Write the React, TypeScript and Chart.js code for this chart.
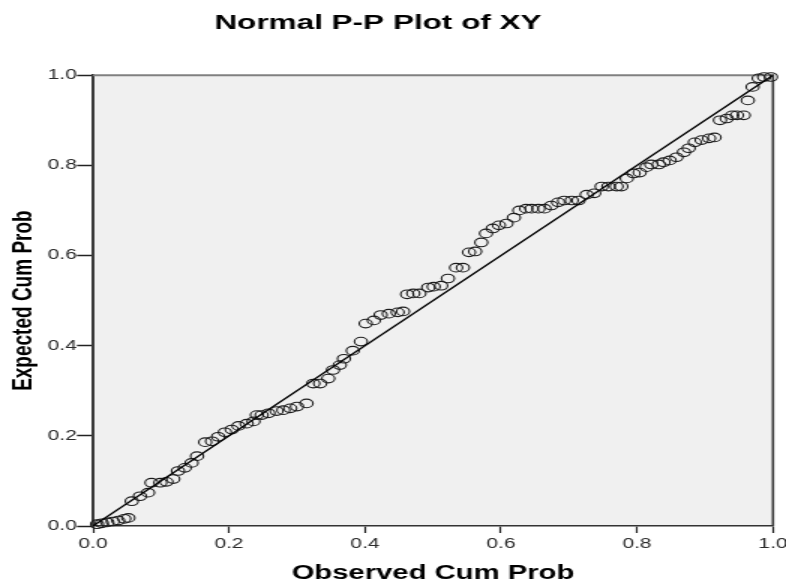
import React, { useEffect, useRef } from "react";
import { Chart, registerables } from "chart.js";

Chart.register(...registerables);

// Observed cumulative probability (x) and expected cumulative probability (y)
const observedCumProb = [
  0.006, 0.013, 0.021, 0.029, 0.037, 0.046, 0.052, 0.057, 0.069, 0.081,
  0.086, 0.099, 0.108, 0.118, 0.125, 0.135, 0.145, 0.153, 0.165, 0.175,
  0.184, 0.194, 0.204, 0.214, 0.226, 0.236, 0.241, 0.248, 0.258, 0.27,
  0.28, 0.29, 0.3, 0.314, 0.324, 0.334, 0.346, 0.353, 0.363, 0.369,
  0.382, 0.394, 0.401, 0.413, 0.423, 0.435, 0.448, 0.456, 0.462, 0.471,
  0.48, 0.493, 0.501, 0.512, 0.522, 0.534, 0.544, 0.553, 0.562, 0.571,
  0.578, 0.588, 0.597, 0.608, 0.619, 0.627, 0.637, 0.645, 0.655, 0.664,
  0.674, 0.684, 0.693, 0.704, 0.714, 0.726, 0.737, 0.748, 0.758, 0.77,
  0.777, 0.785, 0.795, 0.804, 0.814, 0.821, 0.832, 0.839, 0.848, 0.858,
  0.869, 0.876, 0.885, 0.895, 0.906, 0.914, 0.922, 0.932, 0.94, 0.947,
  0.957, 0.963, 0.97, 0.979, 0.987, 0.997,
];
const expectedCumProb = [
  0.004, 0.006, 0.008, 0.01, 0.012, 0.016, 0.018, 0.055, 0.066, 0.074,
  0.096, 0.096, 0.098, 0.104, 0.122, 0.129, 0.14, 0.155, 0.186, 0.188,
  0.198, 0.208, 0.214, 0.222, 0.227, 0.232, 0.246, 0.246, 0.25, 0.255,
  0.257, 0.261, 0.265, 0.272, 0.316, 0.316, 0.327, 0.346, 0.357, 0.371,
  0.389, 0.409, 0.449, 0.456, 0.468, 0.471, 0.474, 0.476, 0.514, 0.516,
  0.516, 0.529, 0.531, 0.533, 0.549, 0.573, 0.573, 0.607, 0.609, 0.629,
  0.649, 0.66, 0.667, 0.671, 0.684, 0.7, 0.704, 0.704, 0.704, 0.704,
  0.711, 0.718, 0.722, 0.722, 0.722, 0.735, 0.738, 0.753, 0.753, 0.753,
  0.753, 0.771, 0.782, 0.784, 0.796, 0.802, 0.802, 0.807, 0.811, 0.818,
  0.829, 0.838, 0.851, 0.856, 0.86, 0.862, 0.9, 0.904, 0.911, 0.911,
  0.911, 0.944, 0.974, 0.993, 0.996, 0.996,
];
// Reference (diagonal) line end points
const refLineX = [0, 1];
const refLineY = [0, 1];
// Axis ticks
const tickValues = [0, 0.2, 0.4, 0.6, 0.8, 1.0];
const tickLabels = ["0.0", "0.2", "0.4", "0.6", "0.8", "1.0"];

const TITLE = "Normal P-P Plot of XY";
const X_TITLE = "Observed Cum Prob";
const Y_TITLE = "Expected Cum Prob";

// The reference image is horizontally stretched; render narrower and stretch via CSS
const CSS_W = 786;
const CSS_H = 583;
const STRETCH = 1.5;
const W = Math.round(CSS_W / STRETCH); // 524
const H = CSS_H;

const FONT = "'Liberation Sans', Arial, Helvetica, sans-serif";

const framePlugin = {
  id: "ppFrame",
  beforeDraw(chart: any) {
    const { ctx, chartArea } = chart;
    const { left, top, right, bottom } = chartArea;
    ctx.save();
    ctx.fillStyle = "#f0f0f0";
    ctx.fillRect(left, top, right - left, bottom - top);
    ctx.restore();
  },
  beforeDatasetsDraw(chart: any) {
    const { ctx, chartArea } = chart;
    const { left, top, right, bottom } = chartArea;
    ctx.save();
    // top border (lighter gray)
    ctx.strokeStyle = "#808080";
    ctx.lineWidth = 2;
    ctx.beginPath();
    ctx.moveTo(left, top);
    ctx.lineTo(right, top);
    ctx.stroke();
    // right border (dark)
    ctx.strokeStyle = "#3a3a3a";
    ctx.lineWidth = 1.6;
    ctx.beginPath();
    ctx.moveTo(right, top - 1);
    ctx.lineTo(right, bottom);
    ctx.stroke();
    ctx.restore();
  },
};

export default function App() {
  const canvasRef = useRef<HTMLCanvasElement | null>(null);

  useEffect(() => {
    document.body.style.margin = "0";
    const canvas = canvasRef.current;
    if (!canvas) return;

    const points = observedCumProb.map((x, i) => ({ x, y: expectedCumProb[i] }));
    const line = refLineX.map((x, i) => ({ x, y: refLineY[i] }));

    const padLeft = -11.3;
    const padRight = 8.67;
    const chartLeft = 62;

    const chart = new Chart(canvas, {
      type: "scatter",
      data: {
        datasets: [
          {
            label: "Reference",
            data: line,
            showLine: true,
            borderColor: "#000000",
            borderWidth: 1.3,
            pointRadius: 0,
            pointHoverRadius: 0,
            fill: false,
          } as any,
          {
            label: "Observed",
            data: points,
            pointStyle: "circle",
            pointRadius: 4.3,
            pointHoverRadius: 4.3,
            pointBorderWidth: 1.1,
            borderColor: "#1c1c1c",
            backgroundColor: "rgba(0,0,0,0)",
            clip: false,
          } as any,
        ],
      },
      options: {
        animation: false,
        responsive: false,
        devicePixelRatio: 1,
        events: [],
        layout: {
          padding: { left: padLeft, right: padRight, top: 0, bottom: 0 },
        },
        plugins: {
          legend: { display: false },
          tooltip: { enabled: false },
          title: {
            display: true,
            text: TITLE,
            color: "#000000",
            font: { family: FONT, size: 21, weight: "bold" },
            padding: { top: 11, bottom: 39 },
          },
        },
        scales: {
          x: {
            type: "linear",
            min: 0,
            max: 1,
            afterBuildTicks(scale: any) {
              scale.ticks = tickValues.map((v) => ({ value: v }));
            },
            afterFit(scale: any) {
              scale.height = H - 526;
              scale.paddingLeft = 0;
              scale.paddingRight = 0;
            },
            ticks: {
              color: "#2a2a2a",
              font: { family: FONT, size: 14 },
              padding: 3,
              maxRotation: 0,
              autoSkip: false,
              callback: (v: any) => tickLabels[tickValues.indexOf(Number(v))] ?? "",
            },
            grid: {
              display: true,
              drawOnChartArea: false,
              drawTicks: true,
              tickLength: 7,
              tickColor: "#222222",
              tickWidth: 1.2,
            },
            border: { display: true, color: "#333333", width: 1.6 },
            title: {
              display: true,
              text: X_TITLE,
              color: "#000000",
              font: { family: FONT, size: 19.5, weight: "bold", lineHeight: 1 },
              padding: { top: 0, bottom: 0 },
            },
          },
          y: {
            type: "linear",
            min: 0,
            max: 1,
            afterBuildTicks(scale: any) {
              scale.ticks = tickValues.map((v) => ({ value: v }));
            },
            afterFit(scale: any) {
              scale.width = chartLeft - padLeft;
              scale.paddingTop = 0;
              scale.paddingBottom = 0;
            },
            ticks: {
              color: "#2a2a2a",
              font: { family: FONT, size: 14 },
              padding: 0,
              autoSkip: false,
              callback: (v: any) => tickLabels[tickValues.indexOf(Number(v))] ?? "",
            },
            grid: {
              display: true,
              drawOnChartArea: false,
              drawTicks: true,
              tickLength: 10.7,
              tickColor: "#222222",
              tickWidth: 1.5,
            },
            border: { display: true, color: "#3a3a3a", width: 2 },
            title: {
              display: true,
              text: Y_TITLE,
              color: "#000000",
              font: { family: FONT, size: 19, weight: "bold" },
              padding: { top: 16, bottom: 0 },
            },
          },
        },
      } as any,
      plugins: [framePlugin],
    });

    return () => chart.destroy();
  }, []);

  return (
    <div style={{ width: CSS_W, height: CSS_H, background: "#ffffff" }}>
      <canvas
        ref={canvasRef}
        width={W}
        height={H}
        style={{ width: `${CSS_W}px`, height: `${CSS_H}px`, display: "block" }}
      />
    </div>
  );
}
